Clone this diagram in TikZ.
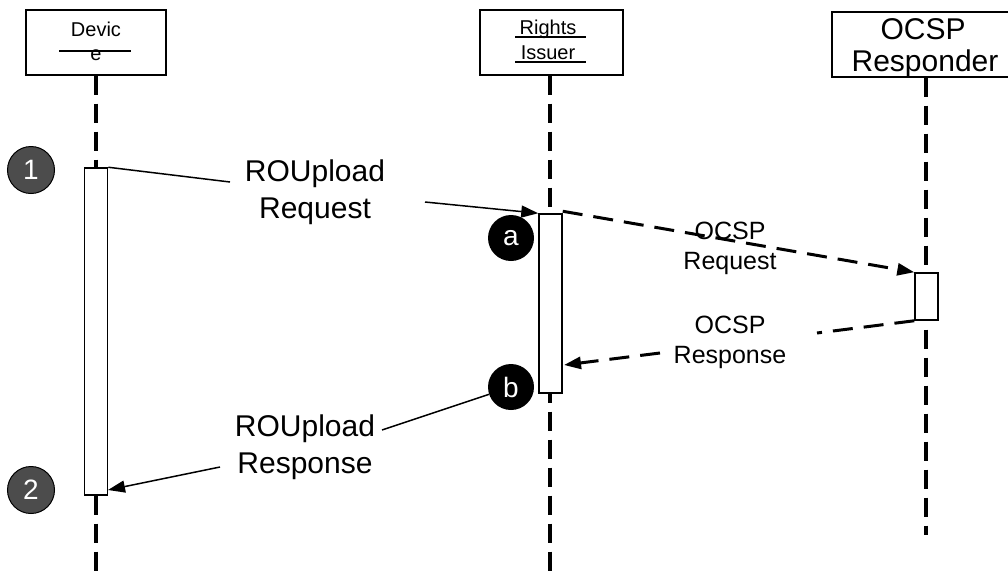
\documentclass[tikz,border=0pt]{standalone}
\usepackage{fontspec}
\setmainfont{Liberation Sans}
\usetikzlibrary{arrows.meta,shapes.geometric}
\begin{document}
\begin{tikzpicture}[x=1pt,y=-1pt,
 lifeline/.style={line width=3.2pt, dash pattern=on 19pt off 9pt},
 objbox/.style={draw, line width=1.5pt, fill=white, inner sep=0, anchor=north west},
 actbar/.style={draw, line width=1.5pt, fill=white, minimum width=23pt, inner sep=0},
 msg/.style={line width=1.5pt},
 dmsg/.style={line width=3pt, dash pattern=on 20pt off 11pt},
 tip/.style={-{Triangle[length=17pt,width=12pt]}},
 stepnum/.style={circle, draw=black, line width=1pt, fill=black!70, text=white, minimum size=47pt, inner sep=0, font=\fontsize{28}{30}\selectfont},
 letnum/.style={circle, fill=black, text=white, minimum size=46pt, inner sep=0, font=\fontsize{28}{30}\selectfont},
 big/.style={font=\fontsize{30}{37}\selectfont, align=center, inner sep=0},
 mid/.style={font=\fontsize{25}{30}\selectfont, align=center, inner sep=0},
 small/.style={font=\fontsize{20}{24}\selectfont, inner sep=0},
 uline/.style={line width=1.2pt}]
\useasboundingbox (0,0) rectangle (1008,571);
\fill[white] (0,0) rectangle (1008,571);

% object boxes
\node[objbox, minimum width=140pt, minimum height=65pt] (dev) at (25,9) {};
\node[objbox, minimum width=143pt, minimum height=65pt] (ri) at (479,9) {};
\node[objbox, minimum width=190pt, minimum height=65pt] (oc) at (831,11) {};

\node[small] (devt1) at (96,29) {Devic};
\node[small] (devt2) at (96,55) {e};
\draw[uline] (59,51) -- (131,51);

\node[small] (rit1) at (548,29) {Rights};
\node[small] (rit2) at (548,53) {Issuer};
\draw[uline] (515,37) -- (586,37);
\draw[uline] (515,62) -- (586,62);

\node[big] (oct1) at (923,29) {OCSP};
\node[big] (oct2) at (925,64) {Responder};

% lifelines
\coordinate (devend) at (96,571);
\coordinate (riend) at (550,571);
\coordinate (ocend) at (926,535);
\draw[lifeline] (dev.south -| devend) -- (devend);
\draw[lifeline] (ri.south -| riend) -- (riend);
\draw[lifeline] (oc.south -| ocend) -- (ocend);

% activation bars
\node[actbar, minimum height=327pt] (devbar) at (96,331.5) {};
\node[actbar, minimum height=179pt] (ribar) at (550.5,303.5) {};
\node[actbar, minimum height=47pt] (ocbar) at (926.5,296.5) {};

% step markers
\node[stepnum] (n1) at (31,170) {1};
\node[stepnum] (n2) at (31,490) {2};
\node[letnum] (na) at (511,238) {a};
\node[letnum] (nb) at (511,387) {b};

% ROUpload Request
\node[big] (rqlab) at (315,192) {ROUpload\\Request};
\coordinate (rq1) at (230,182);
\coordinate (rq2) at (425,202);
\draw[msg] (devbar.north east) -- (rq1);
\draw[msg,tip] (rq2) -- (ribar.north west);

% OCSP Request
\node[mid] (oqlab) at (730,248) {OCSP\\Request};
\draw[dmsg,tip] ([yshift=2pt]ribar.north east) -- (ocbar.north west);

% OCSP Response
\node[mid] (oslab) at (730,342) {OCSP\\Response};
\coordinate (os1) at (817,333);
\coordinate (os2) at (660,353);
\coordinate (os3) at (564,365);
\draw[dmsg] (ocbar.south west) -- (os1);
\draw[dmsg,tip] (os2) -- (os3);

% ROUpload Response
\node[big] (rplab) at (305,447) {ROUpload\\Response};
\coordinate (rp1) at (382,430);
\coordinate (rp2) at (220,467);
\coordinate (rp3) at (108,490);
\draw[msg] (nb) -- (rp1);
\draw[msg,tip] (rp2) -- (rp3);
\end{tikzpicture}
\end{document}
